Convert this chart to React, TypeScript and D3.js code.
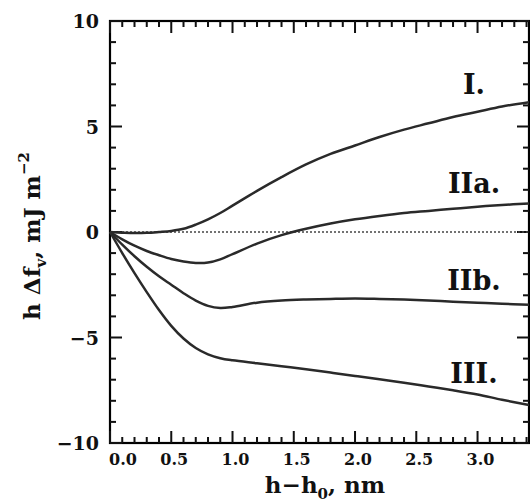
import React from "react";
import * as d3 from "d3";

const xs = [0, 0.1, 0.2, 0.3, 0.4, 0.5, 0.6, 0.7, 0.8, 0.9, 1.0, 1.2, 1.4, 1.6, 1.8, 2.0, 2.2, 2.4, 2.6, 2.8, 3.0, 3.2, 3.42];
const curveI = [0, -0.03, -0.05, -0.04, 0, 0.05, 0.15, 0.35, 0.6, 0.9, 1.25, 1.95, 2.6, 3.2, 3.7, 4.1, 4.5, 4.85, 5.15, 5.45, 5.7, 5.95, 6.15];
const curveIIa = [0, -0.35, -0.65, -0.9, -1.1, -1.28, -1.4, -1.47, -1.45, -1.3, -1.05, -0.55, -0.15, 0.15, 0.4, 0.6, 0.76, 0.9, 1.0, 1.1, 1.2, 1.28, 1.35];
const curveIIb = [0, -0.6, -1.15, -1.65, -2.1, -2.5, -2.9, -3.25, -3.5, -3.6, -3.55, -3.35, -3.25, -3.2, -3.17, -3.15, -3.17, -3.2, -3.25, -3.3, -3.35, -3.4, -3.45];
const curveIII = [0, -1.0, -1.95, -2.85, -3.7, -4.45, -5.05, -5.5, -5.8, -5.98, -6.08, -6.22, -6.36, -6.5, -6.66, -6.82, -6.98, -7.14, -7.32, -7.5, -7.7, -7.95, -8.2];
const seriesNames = ["I.", "IIa.", "IIb.", "III."];
const labelY = [7.0, 2.3, -2.3, -6.7];
const xTickLabels = ["0.0", "0.5", "1.0", "1.5", "2.0", "2.5", "3.0"];
const yTickValues = [-10, -5, 0, 5, 10];

export default function App() {
  const W = 530, H = 504;
  const x = d3.scaleLinear().domain([0, 3.42]).range([110, 529]);
  const y = d3.scaleLinear().domain([-10, 10]).range([443, 21]);
  const series = [curveI, curveIIa, curveIIb, curveIII];
  const lineGen = d3.line<number>().x((_, i) => x(xs[i])).y((d) => y(d)).curve(d3.curveCatmullRom.alpha(0.5));
  const font = "'DejaVu Serif', serif";
  const x0 = x(0), x1 = x(3.42), yT = y(10), yB = y(-10);
  const tw = 2;

  const tickRects: { x: number; y: number; w: number; h: number }[] = [];
  for (let k = 0; k <= 34; k++) {
    const len = k % 5 === 0 ? 12 : 6;
    const px = x(k / 10);
    tickRects.push({ x: px - tw / 2, y: yB - len, w: tw, h: len });
    tickRects.push({ x: px - tw / 2, y: yT, w: tw, h: len });
  }
  for (let v = -10; v <= 10; v++) {
    const len = v % 5 === 0 ? 12 : 6;
    const py = y(v);
    tickRects.push({ x: x0, y: py - tw / 2, w: len, h: tw });
    tickRects.push({ x: x1 - len, y: py - tw / 2, w: len, h: tw });
  }

  return (
    <svg width={W} height={H} style={{ position: "absolute", left: 0, top: 0, background: "#fff" }}>
      <rect x={x0} y={yT} width={x1 - x0} height={yB - yT} fill="none" stroke="#000" strokeWidth={2.2} />
      <g fill="#111">
        {tickRects.map((r, i) => (
          <rect key={"t" + i} x={r.x} y={r.y} width={r.w} height={r.h} />
        ))}
      </g>
      <line x1={x0} x2={x1} y1={y(0)} y2={y(0)} stroke="#444" strokeWidth={1.5} strokeDasharray="2,2" />
      {series.map((s, i) => (
        <path key={"c" + i} d={lineGen(s) || ""} fill="none" stroke="#2a2a2a" strokeWidth={2.5} />
      ))}
      {seriesNames.map((n, i) => (
        <text key={"l" + i} x={474} y={y(labelY[i])} textAnchor="middle" dominantBaseline="central"
          fontFamily={font} fontWeight="bold" fontSize={27} fill="#111">{n}</text>
      ))}
      {yTickValues.map((v) => (
        <text key={"yl" + v} x={99} y={y(v)} textAnchor="end" dominantBaseline="central"
          fontFamily={font} fontWeight="bold" fontSize={19} fill="#111">{v < 0 ? "\u2212" + Math.abs(v) : String(v)}</text>
      ))}
      {xTickLabels.map((t, i) => (
        <text key={"xl" + i} x={i === 0 ? x(0) + 13 : x(+t) + 3} y={465} textAnchor="middle"
          fontFamily={font} fontWeight="bold" fontSize={16} fill="#111">{t}</text>
      ))}
      <text x={325} y={493} textAnchor="middle" fontFamily={font} fontWeight="bold" fontSize={23} fill="#111">
        h{"\u2212"}h<tspan fontSize={15} dy={6}>0</tspan><tspan dy={-6}>,  nm</tspan>
      </text>
      <text transform={`translate(40, ${236}) rotate(-90)`} textAnchor="middle" fontFamily={font} fontWeight="bold" fontSize={23} fill="#111">
        h {"\u0394"}f<tspan fontSize={15} dy={6}>v</tspan><tspan dy={-6}>,  mJ  m</tspan><tspan fontSize={15} dy={-11}>{"\u2212"}2</tspan>
      </text>
    </svg>
  );
}
